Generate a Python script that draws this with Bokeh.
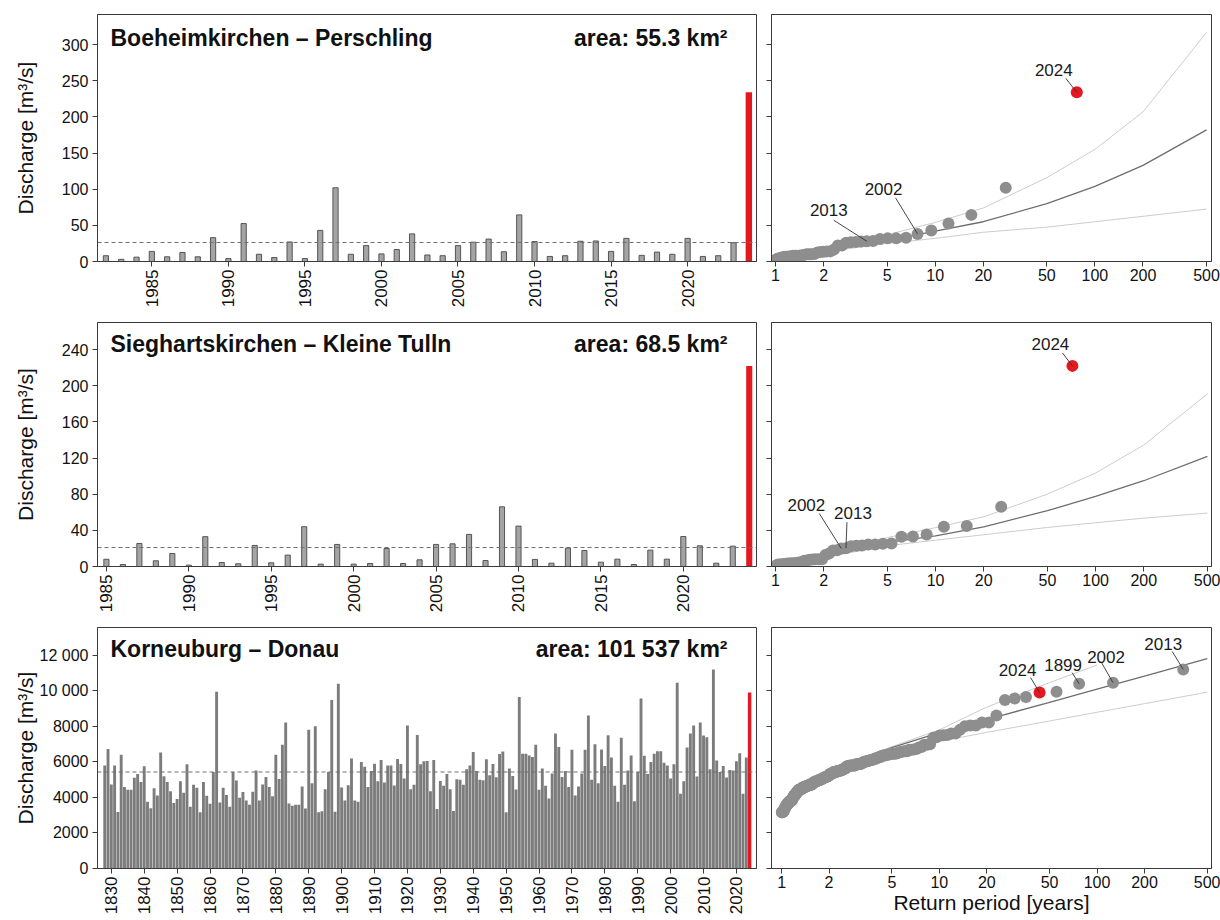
import numpy as np
from bokeh.plotting import figure
from bokeh.layouts import gridplot
from bokeh.models import FixedTicker, Span, Label, Range1d, CustomJSTickFormatter
from bokeh.core.properties import value
from bokeh.embed import file_html
from bokeh.resources import INLINE

FONT = "Liberation Sans"
GREY_BAR = "#a4a4a4"
GREY_EDGE = "#555555"
DENSE_BAR = "#7c7c7c"
RED = "#e3191f"
PT_GREY = "#8e8e8e"
AX = "#3a3a3a"

# ---------------- Station 1 ----------------
s1_title = "Boeheimkirchen – Perschling"
s1_area = "area: 55.3 km²"
s1_years = list(range(1982, 2025))
s1_q = [8, 3, 6, 14, 6.5, 12.5, 6.5, 33, 4, 52.5,
        10, 5.5, 27, 4, 43, 102, 10, 22, 10.5, 16.5,
        38.2, 9, 8, 22, 26.7, 31, 13.5, 64.5, 27.5, 7,
        8, 28, 28.4, 14, 32, 8.5, 13, 10, 32, 7,
        8, 26, 234]
s1_mean = 26.3
s1_T = [2, 5, 10, 20, 50, 100, 200, 500]
s1_fit = [15, 29, 42, 55, 80, 104, 133, 182]
s1_up = [16, 37, 54, 74, 116, 155, 207, 317]
s1_lo = [13, 25, 32, 40.5, 47.5, 55, 62.5, 72.5]
s1_marked = [2024, 2002, 2013]
s1_xticks = [1985, 1990, 1995, 2000, 2005, 2010, 2015, 2020]
s1_yticks = [0, 50, 100, 150, 200, 250, 300]

# ---------------- Station 2 ----------------
s2_title = "Sieghartskirchen – Kleine Tulln"
s2_area = "area: 68.5 km²"
s2_years = list(range(1985, 2025))
s2_q = [8, 2.2, 25.5, 6.3, 14.4, 1.5, 33, 4.4, 3, 23.3,
        4.1, 12.6, 44, 2.6, 24.4, 2.6, 3.3, 19.9, 3.3, 7.4,
        24.4, 25.1, 35.5, 6.6, 66, 44.7, 7.8, 3.7, 20.3, 17.7,
        4.8, 8.1, 2.2, 18.1, 8.1, 33.2, 22.9, 3.7, 22.5, 222]
s2_mean = 21
s2_T = [2, 5, 10, 20, 50, 100, 200, 500]
s2_fit = [12, 26.6, 34, 43.9, 61.7, 77.6, 94.9, 121.9]
s2_up = [13, 32, 43, 55, 80.1, 103.4, 134.4, 191]
s2_lo = [10, 22.9, 29.2, 35.1, 43.2, 48.4, 53.5, 59.1]
s2_marked = [2024, 2002, 2013]
s2_xticks = [1985, 1990, 1995, 2000, 2005, 2010, 2015, 2020]
s2_yticks = [0, 40, 80, 120, 160, 200, 240]

# ---------------- Station 3 ----------------
s3_title = "Korneuburg – Donau"
s3_area = "area: 101 537 km²"
s3_years = list(range(1828, 2025))
s3_q = [5790, 6730, 4720, 5790, 3180, 6400, 4580, 4430, 4430, 5100,   # 1828
        5320, 4870, 5750, 3760, 3390, 4520, 4110, 6530, 5190, 4870,   # 1838
        4350, 3680, 3910, 4910, 4260, 5860, 3480, 4710, 4540, 3160,   # 1848
        4860, 4090, 3650, 5430, 9950, 3720, 4540, 4130, 3480, 5430,   # 1858
        4950, 3980, 4300, 3830, 3590, 4320, 5520, 3830, 4720, 5150,   # 1868
        4580, 4060, 6400, 5040, 6960, 8220, 3660, 3530, 3590, 3590,   # 1878
        4610, 3370, 7810, 4800, 8000, 3160, 3220, 4460, 5430, 9480,   # 1888
        3200, 10400, 4560, 3830, 4690, 6190, 3830, 3760, 5990, 5730,  # 1898
        4590, 5490, 5900, 4910, 6100, 4840, 5800, 5790, 4670, 6160,   # 1908
        5880, 5060, 8040, 4460, 4710, 7510, 5860, 6030, 6050, 4350,   # 1918
        6100, 3350, 4930, 4650, 5320, 4460, 3240, 5020, 4990, 4710,   # 1928
        5580, 5800, 6550, 5490, 5000, 4970, 6140, 5250, 5880, 5130,   # 1938
        6440, 6580, 3160, 5620, 5210, 4450, 9650, 6450, 6450, 6360,   # 1948
        6270, 6960, 4430, 5620, 4650, 3940, 5340, 7590, 6830, 5150,   # 1958
        5490, 4590, 6680, 4110, 4610, 5340, 6680, 8610, 4990, 6990,   # 1968
        4800, 6700, 5770, 7500, 6250, 4650, 3760, 7350, 4710, 5510,   # 1978
        6360, 3790, 5430, 9560, 6340, 5320, 5990, 6450, 6600, 6600,   # 1988
        5950, 5800, 5060, 5860, 10450, 4200, 4910, 6810, 7590, 8050,  # 1998
        5170, 8220, 7480, 7380, 5580, 11200, 6080, 5430, 5770, 5120,  # 2008
        5540, 5520, 6030, 6490, 4200, 6250, 9900]                     # 2018
s3_mean = 5430
s3_T = [2, 5, 10, 20, 50, 100, 200, 500]
s3_fit = [5450, 6800, 7650, 8380, 9350, 10090, 10830, 11810]
s3_up = [5550, 6850, 7800, 9080, 10460, 11450, np.nan, np.nan]
s3_lo = [5300, 6550, 7150, 7660, 8300, 8790, 9275, 9920]
s3_marked = [2024, 1899, 2002, 2013]
s3_xticks = list(range(1830, 2021, 10))
s3_yticks = [0, 2000, 4000, 6000, 8000, 10000, 12000]

rp_ticks = [1, 2, 5, 10, 20, 50, 100, 200, 500]

# annotation placement (pixels relative to point: label centre, leader start)
s1_off = {2024: (-23, -22, -11, -14), 2002: (-34, -45, -22, -36), 2013: (-38, -31, -33, -21)}
s2_off = {2024: (-22, -22, -10, -13), 2002: (-35, -44, -22, -35), 2013: (7, -35, 1, -26)}
s3_off = {2024: (-22, -23, -9, -15), 1899: (-16, -19, -7, -11),
          2002: (-7, -26, -12, -21), 2013: (-20, -25, -11, -18)}

# ---------------- layout ----------------
L_BL, L_FW, L_BR = 97, 659, 8
R_BL, R_FW, R_BR = 7, 440, 9
LW = L_BL + L_FW + L_BR
RW = R_BL + R_FW + R_BR
ROW_TOP = [14, 6, 6]
ROW_FH = [247, 244, 241]
ROW_BOT = [55, 55, 50]
ROW_H = [t + f + b for t, f, b in zip(ROW_TOP, ROW_FH, ROW_BOT)]


def style(p):
    p.grid.visible = False
    p.outline_line_color = AX
    p.outline_line_width = 1
    p.background_fill_color = "white"
    p.border_fill_color = "white"
    for ax in p.axis:
        ax.axis_line_color = AX
        ax.major_tick_line_color = AX
        ax.minor_tick_line_color = None
        ax.major_tick_in = 0
        ax.major_tick_out = 5
        ax.major_label_text_font = FONT
        ax.major_label_text_color = "#111111"
        ax.axis_label_text_font = FONT
        ax.axis_label_text_font_style = "normal"
        ax.axis_label_text_color = "#111111"


def yfmt():
    return CustomJSTickFormatter(code="""
        const s = Math.round(tick).toString();
        return tick >= 10000 ? s.slice(0, s.length - 3) + ' ' + s.slice(s.length - 3) : s;
    """)


def left_panel(row, years, q, mean, xr, yr, xticks, yticks, title, area,
               bar_w, red_w, dense, xfs, ylab_so, title_dy):
    fh = ROW_FH[row]
    p = figure(width=LW, height=ROW_H[row], x_range=Range1d(*xr), y_range=Range1d(*yr),
               output_backend="svg", toolbar_location=None,
               min_border_left=L_BL, min_border_right=L_BR,
               min_border_top=ROW_TOP[row], min_border_bottom=ROW_BOT[row])
    yrs = np.array(years)
    qq = np.array(q, dtype=float)
    m = yrs != 2024
    if dense:
        p.vbar(x=yrs[m], top=qq[m], width=bar_w, bottom=0,
               fill_color=DENSE_BAR, line_color=None)
    else:
        p.vbar(x=yrs[m], top=qq[m], width=bar_w, bottom=0,
               fill_color=GREY_BAR, line_color=GREY_EDGE, line_width=1)
    p.vbar(x=yrs[~m], top=qq[~m], width=red_w, bottom=0,
           fill_color=RED, line_color=None)
    p.add_layout(Span(location=mean, dimension="width", line_color="#6f6f6f",
                      line_width=1, line_dash="4 3"))
    style(p)
    p.xaxis.ticker = FixedTicker(ticks=xticks)
    p.xaxis.major_label_orientation = np.pi / 2
    p.xaxis.major_label_text_font_size = xfs
    p.xaxis.major_label_standoff = 3
    p.yaxis.ticker = FixedTicker(ticks=yticks)
    p.yaxis.formatter = yfmt()
    p.yaxis.major_label_text_font_size = "16px"
    p.yaxis.major_label_standoff = 4
    p.yaxis.axis_label = "Discharge [m³/s]"
    p.yaxis.axis_label_text_font_size = "21px"
    p.yaxis.axis_label_standoff = ylab_so
    xs = xr[1] - xr[0]
    ys = yr[1] - yr[0]
    ty = yr[1] - title_dy / fh * ys
    p.add_layout(Label(x=xr[0] + 13 / L_FW * xs, y=ty, text=title, text_font=FONT,
                       text_font_size="23px", text_font_style="bold",
                       text_baseline="middle", text_align="left", text_color="#111111"))
    p.add_layout(Label(x=xr[1] - 29 / L_FW * xs, y=ty, text=area, text_font=FONT,
                       text_font_size="23px", text_font_style="bold",
                       text_baseline="middle", text_align="right", text_color="#111111"))
    return p


def gringorten(q):
    q = np.asarray(q, dtype=float)
    n = len(q)
    order = np.argsort(-q, kind="stable")
    rank = np.empty(n)
    rank[order] = np.arange(1, n + 1)
    return (n + 0.12) / (rank - 0.44)


def right_panel(row, years, q, Tg, fit, up, lo, marked, offs, xr, yr, yticks, xlabel):
    fh = ROW_FH[row]
    p = figure(width=RW, height=ROW_H[row], x_axis_type="log",
               x_range=Range1d(*xr), y_range=Range1d(*yr),
               output_backend="svg", toolbar_location=None,
               min_border_left=R_BL, min_border_right=R_BR,
               min_border_top=ROW_TOP[row], min_border_bottom=ROW_BOT[row])
    yrs = np.array(years)
    qq = np.array(q, dtype=float)
    T = gringorten(qq)
    p.line(Tg, up, line_color="#cccccc", line_width=1)
    p.line(Tg, lo, line_color="#cccccc", line_width=1)
    p.line(Tg, fit, line_color="#6e6e6e", line_width=1.3)
    m = yrs != 2024
    p.scatter(T[m], qq[m], size=12, fill_color=PT_GREY, line_color=None)
    p.scatter(T[~m], qq[~m], size=12, fill_color=RED, line_color=None)

    lx0, lx1 = np.log10(xr[0]), np.log10(xr[1])
    dec_per_px = (lx1 - lx0) / R_FW
    val_per_px = (yr[1] - yr[0]) / fh
    tx, ty, tt, x0s, y0s, x1s, y1s = [], [], [], [], [], [], []
    for yv in marked:
        i = years.index(yv)
        ldx, ldy, sdx, sdy = offs[yv]
        tx.append(T[i] * 10 ** (ldx * dec_per_px))
        ty.append(qq[i] - ldy * val_per_px)
        tt.append(str(yv))
        x0s.append(T[i] * 10 ** (sdx * dec_per_px))
        y0s.append(qq[i] - sdy * val_per_px)
        x1s.append(T[i])
        y1s.append(qq[i])
    p.segment(x0=x0s, y0=y0s, x1=x1s, y1=y1s, line_color="#333333", line_width=0.9)
    p.text(x=tx, y=ty, text=tt, text_font=value(FONT), text_font_size=value("17px"),
           text_align="center", text_baseline="middle", text_color="#1a1a1a")

    style(p)
    p.xaxis.ticker = FixedTicker(ticks=rp_ticks)
    p.xaxis.formatter = CustomJSTickFormatter(code="return tick.toString();")
    p.xaxis.major_label_text_font_size = "16px"
    p.xaxis.major_label_standoff = 2
    p.yaxis.ticker = FixedTicker(ticks=yticks)
    p.yaxis.formatter = CustomJSTickFormatter(code="return '';")
    p.yaxis.major_label_text_font_size = "1px"
    p.yaxis.major_label_standoff = 0
    if xlabel:
        p.xaxis.axis_label = xlabel
        p.xaxis.axis_label_text_font_size = "21px"
        p.xaxis.axis_label_standoff = 0
    return p


l1 = left_panel(0, s1_years, s1_q, s1_mean, (1981.45, 2024.5), (0, 341.7), s1_xticks, s1_yticks,
                s1_title, s1_area, 0.34, 0.42, False, "17px", 22, 23)
r1 = right_panel(0, s1_years, s1_q, s1_T, s1_fit, s1_up, s1_lo, s1_marked, s1_off,
                 (0.944, 537), (0, 341.7), s1_yticks, None)
l2 = left_panel(1, s2_years, s2_q, s2_mean, (1984.46, 2024.44), (0, 270), s2_xticks, s2_yticks,
                s2_title, s2_area, 0.31, 0.37, False, "17px", 22, 21)
r2 = right_panel(1, s2_years, s2_q, s2_T, s2_fit, s2_up, s2_lo, s2_marked, s2_off,
                 (0.944, 530), (0, 270), s2_yticks, None)
l3 = left_panel(2, s3_years, s3_q, s3_mean, (1825.8, 2026.1), (0, 13560), s3_xticks, s3_yticks,
                s3_title, s3_area, 0.88, 1.05, True, "17px", 0, 21)
r3 = right_panel(2, s3_years, s3_q, s3_T, s3_fit, s3_up, s3_lo, s3_marked, s3_off,
                 (0.863, 532), (0, 13560), s3_yticks, "Return period [years]")

grid = gridplot([[l1, r1], [l2, r2], [l3, r3]], toolbar_location=None)

open("out.html", "w").write(file_html(grid, INLINE))
